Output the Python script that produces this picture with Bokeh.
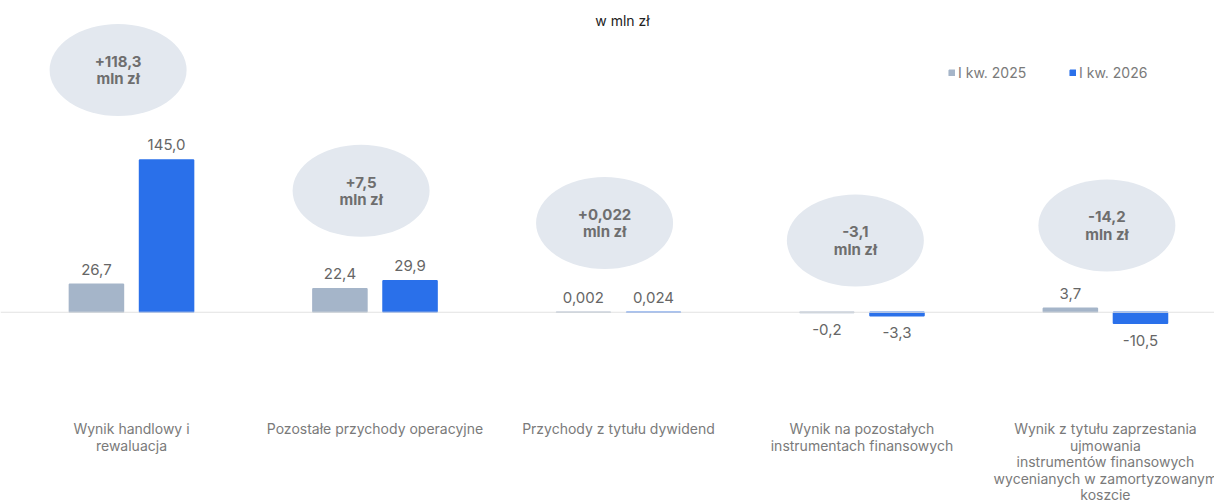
from bokeh.plotting import figure
from bokeh.models import Range1d, Span, Label, Legend, LegendItem, ColumnDataSource
from bokeh.core.properties import value
from bokeh.embed import file_html
from bokeh.resources import INLINE

categories = [
    "Wynik handlowy i\nrewaluacja",
    "Pozostałe przychody operacyjne",
    "Przychody z tytułu dywidend",
    "Wynik na pozostałych\ninstrumentach finansowych",
    "Wynik z tytułu zaprzestania\nujmowania\ninstrumentów finansowych\nwycenianych w zamortyzowanym\nkoszcie",
]
series_names = ["I kw. 2025", "I kw. 2026"]
v2025 = [26.7, 22.4, 0.002, -0.2, 3.7]
v2026 = [145.0, 29.9, 0.024, -3.3, -10.5]
title_text = "w mln zł"

# annotation placement for the difference bubbles (group offset, data y)
bubble_dx = [-0.055, -0.057, -0.057, -0.027, 0.006]
bubble_y = [230.7, 115.6, 85.0, 68.3, 82.6]

FONT = "Inter"
GRAY = "#A5B5C9"
BLUE = "#2A70EA"


def fmt(v, sign=False):
    d = 3 if abs(v) < 0.1 else 1
    s = f"{v:.{d}f}".replace(".", ",")
    if sign and v > 0:
        s = "+" + s
    return s


n = len(categories)
xs = list(range(n))
off = 0.144
bw = 0.222

p = figure(width=1214, height=502, output_backend="svg", toolbar_location=None,
           x_range=Range1d(-0.538, 4.448), y_range=Range1d(-181.2, 296.9),
           x_axis_location=None, y_axis_location=None, min_border=0)
p.outline_line_color = None
p.xgrid.visible = False
p.ygrid.visible = False
p.background_fill_color = "white"
p.border_fill_color = "white"

p.add_layout(Span(location=0, dimension="width", line_color="#E2E2E2", line_width=1))

src = ColumnDataSource(dict(
    x1=[x - off for x in xs], x2=[x + off for x in xs],
    v1=v2025, v2=v2026,
))
r1 = p.vbar(x="x1", top="v1", bottom=0, width=bw, source=src,
            fill_color=GRAY, line_color=GRAY, line_width=1.5)
r2 = p.vbar(x="x2", top="v2", bottom=0, width=bw, source=src,
            fill_color=BLUE, line_color=BLUE, line_width=1.5)

# value labels
for xk, vals in (("x1", v2025), ("x2", v2026)):
    xx = src.data[xk]
    pos = [i for i, v in enumerate(vals) if v >= 0]
    neg = [i for i, v in enumerate(vals) if v < 0]
    if pos:
        p.text(x=[xx[i] for i in pos], y=[vals[i] for i in pos], text=[fmt(vals[i]) for i in pos],
               text_align="center", text_baseline="middle", y_offset=-15,
               text_font=value(FONT), text_font_size="15px", text_color="#666666")
    if neg:
        p.text(x=[xx[i] for i in neg], y=[vals[i] for i in neg], text=[fmt(vals[i]) for i in neg],
               text_align="center", text_baseline="middle", y_offset=17,
               text_font=value(FONT), text_font_size="15px", text_color="#666666")

# difference bubbles
diffs = [b - a for a, b in zip(v2025, v2026)]
bx = [x + d for x, d in zip(xs, bubble_dx)]
p.ellipse(x=bx, y=bubble_y, width=137, height=92, width_units="screen", height_units="screen",
          fill_color="#E3E8EF", line_color=None)
p.text(x=bx, y=bubble_y, text=[fmt(d, sign=True) + "\nmln zł" for d in diffs],
       text_align="center", text_baseline="middle", text_line_height=0.91,
       text_font=value(FONT), text_font_size="15px", text_font_style="bold", text_color="#6E6E6E")

# category labels
p.text(x=xs, y=[-103] * n, text=categories, text_align="center", text_baseline="top",
       text_line_height=0.97, text_font=value(FONT), text_font_size="14px", text_color="#7A7A7A")

# title
p.add_layout(Label(x=622, y=482, x_units="screen", y_units="screen", text=title_text,
                   text_align="center", text_baseline="middle", text_font=FONT,
                   text_font_size="14px", text_color="#222222"))

legend = Legend(items=[LegendItem(label=series_names[0], renderers=[r1]),
                       LegendItem(label=series_names[1], renderers=[r2])],
                orientation="horizontal", location=(948, 421), glyph_width=7, glyph_height=7,
                label_standoff=3, label_width=111, spacing=0, padding=0, margin=0,
                border_line_color=None, background_fill_alpha=0,
                label_text_font=FONT, label_text_font_size="14px", label_text_color="#7A7A7A")
p.add_layout(legend, "center")

open("out.html", "w").write(file_html(p, INLINE))
